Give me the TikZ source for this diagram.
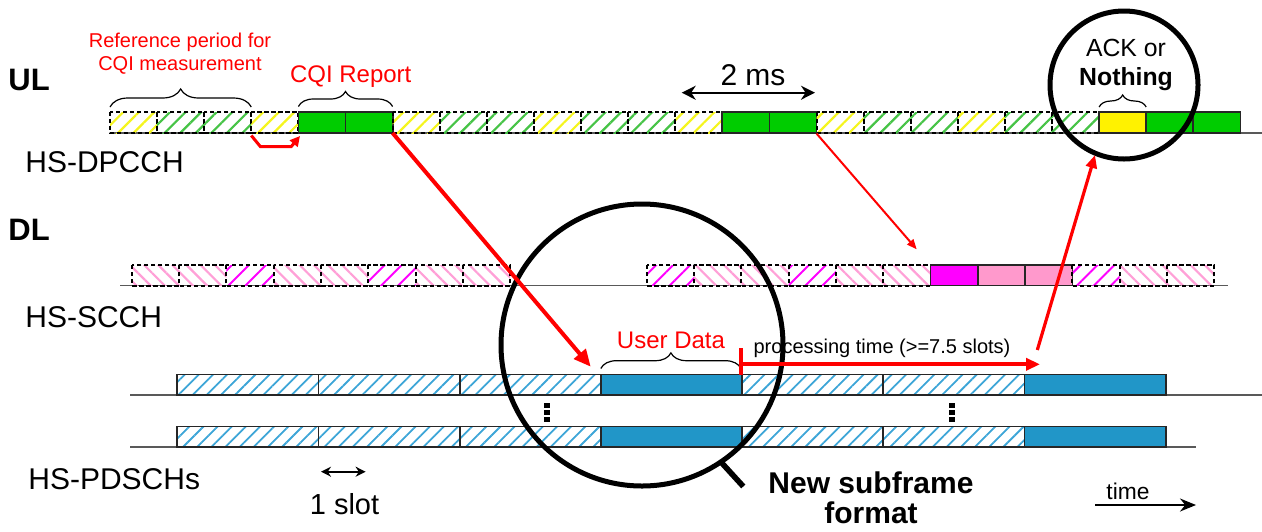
\documentclass[tikz,border=0pt]{standalone}
\usepackage{fontspec}
\setmainfont{Liberation Sans}
\usetikzlibrary{arrows.meta,calc,patterns.meta,decorations.pathreplacing}
\definecolor{ulgreencol}{RGB}{0,204,0}
\definecolor{hgreencol}{RGB}{70,195,70}
\definecolor{hyellowcol}{RGB}{245,245,30}
\definecolor{magcol}{RGB}{255,0,255}
\definecolor{pinkcol}{RGB}{255,153,204}
\definecolor{hpinkcol}{RGB}{255,160,215}
\definecolor{bluecol}{RGB}{33,150,200}
\definecolor{hbluecol}{RGB}{60,165,215}
% slot grid of each channel (picture units are pixels of the sketch)
\newcommand{\ULx}{110}
\newcommand{\ULw}{47.1}
\newcommand{\ULtop}{112}
\newcommand{\ULh}{21}
\newcommand{\DLx}{131.7}
\newcommand{\DLxx}{646.7}
\newcommand{\DLw}{47.3}
\newcommand{\DLtop}{265}
\newcommand{\DLh}{20.5}
\newcommand{\DSx}{177.3}
\newcommand{\DSw}{141.2}
\newcommand{\DSh}{20.5}

\begin{document}
\begin{tikzpicture}[
  x=0.5pt,y=-0.5pt,
  dashbd/.style={draw=black, line width=1pt, dash pattern=on 2.2pt off 1.3pt},
  solidbd/.style={draw=black!85, line width=0.9pt},
  ulyhatch/.style={pattern={Lines[angle=45,distance=5.5pt,line width=1.1pt]}, pattern color=hyellowcol},
  ulghatch/.style={pattern={Lines[angle=45,distance=5.5pt,line width=1.1pt]}, pattern color=hgreencol},
  ulgreen/.style={fill=ulgreencol},
  ulyellow/.style={fill=yellow},
  dlpink/.style={pattern={Lines[angle=-45,distance=5pt,line width=1.1pt]}, pattern color=hpinkcol},
  dlmag/.style={pattern={Lines[angle=45,distance=6pt,line width=1pt]}, pattern color=magcol},
  dlmagfill/.style={fill=magcol},
  dlpinkfill/.style={fill=pinkcol},
  dshatch/.style={pattern={Lines[angle=45,distance=5pt,line width=0.9pt]}, pattern color=hbluecol},
  dsblue/.style={fill=bluecol},
  timeline/.style={draw=black!65, line width=0.8pt},
  slotbrace/.style={draw=black, line width=0.6pt, decorate, decoration={brace, amplitude=#1}},
  lens/.style={draw=black, line width=2.5pt},
  redthick/.style={draw=red, line width=2pt, -{Triangle[length=8.5pt,width=7.5pt]}},
  redmid/.style={draw=red, line width=1.6pt, -{Triangle[length=6.5pt,width=5.5pt]}},
  redthin/.style={draw=red, line width=1pt, -{Triangle[length=5pt,width=4pt]}},
  dimarrow/.style={draw=black, line width=1pt, {Stealth[length=#1,width=#1]}-{Stealth[length=#1,width=#1]}},
  rowlabel/.style={inner sep=0pt, font=\fontsize{15}{18}\selectfont},
  sidelabel/.style={inner sep=0pt, font=\fontsize{15.5}{18}\bfseries},
  redlabel/.style={inner sep=0pt, text=red, font=\fontsize{12}{14}\selectfont}
]
\useasboundingbox (0,0) rectangle (1262,531);

% time lines
\draw[timeline] (110,133) -- (1262,133);
\draw[timeline] (120,285.5) -- (1228,285.5);
\draw[timeline] (130,395) -- (1262,395);
\draw[timeline] (130,447) -- (1196,447);

% HS-DPCCH slots
\foreach \k/\st/\bd in {0/ulyhatch/dashbd,1/ulghatch/dashbd,2/ulghatch/dashbd,3/ulyhatch/dashbd,
  4/ulgreen/solidbd,5/ulgreen/solidbd,6/ulyhatch/dashbd,7/ulghatch/dashbd,8/ulghatch/dashbd,
  9/ulyhatch/dashbd,10/ulghatch/dashbd,11/ulghatch/dashbd,12/ulyhatch/dashbd,
  13/ulgreen/solidbd,14/ulgreen/solidbd,15/ulyhatch/dashbd,16/ulghatch/dashbd,
  17/ulghatch/dashbd,18/ulyhatch/dashbd,19/ulghatch/dashbd,20/ulghatch/dashbd,
  21/ulyellow/solidbd,22/ulgreen/solidbd,23/ulgreen/solidbd} {
  \fill[\st] ({\ULx+\k*\ULw},\ULtop) rectangle ++(\ULw,\ULh);
  \draw[\bd] ({\ULx+\k*\ULw},\ULtop) rectangle ++(\ULw,\ULh);
}

% HS-SCCH slots
\foreach \k/\st in {0/dlpink,1/dlpink,2/dlmag,3/dlpink,4/dlpink,5/dlmag,6/dlpink,7/dlpink} {
  \fill[\st] ({\DLx+\k*\DLw},\DLtop) rectangle ++(\DLw,\DLh);
  \draw[dashbd] ({\DLx+\k*\DLw},\DLtop) rectangle ++(\DLw,\DLh);
}
\foreach \k/\st/\bd in {0/dlmag/dashbd,1/dlpink/dashbd,2/dlpink/dashbd,3/dlmag/dashbd,
  4/dlpink/dashbd,5/dlpink/dashbd,6/dlmagfill/solidbd,7/dlpinkfill/solidbd,
  8/dlpinkfill/solidbd,9/dlmag/dashbd,10/dlpink/dashbd,11/dlpink/dashbd} {
  \fill[\st] ({\DLxx+\k*\DLw},\DLtop) rectangle ++(\DLw,\DLh);
  \draw[\bd] ({\DLxx+\k*\DLw},\DLtop) rectangle ++(\DLw,\DLh);
}

% HS-PDSCH subframes
\foreach \row in {374.5,426.5}
  \foreach \k/\st in {0/dshatch,1/dshatch,2/dshatch,3/dsblue,4/dshatch,5/dshatch,6/dsblue} {
    \fill[\st] ({\DSx+\k*\DSw},\row) rectangle ++(\DSw,\DSh);
    \draw[solidbd] ({\DSx+\k*\DSw},\row) rectangle ++(\DSw,\DSh);
  }

% vertical dots between the two code channels
\foreach \dx in {544.3,948.5}
  \foreach \dy in {402.5,409.5,416.7}
    \fill[black] (\dx,\dy) rectangle ++(6,5);

% channel names
\node[sidelabel, anchor=base west] (ul) at (8,90) {UL};
\node[rowlabel, anchor=base west] (dpcch) at (25,172) {HS-DPCCH};
\node[sidelabel, anchor=base west] (dl) at (8,240) {DL};
\node[rowlabel, anchor=base west] (scch) at (25,327) {HS-SCCH};
\node[rowlabel, anchor=base west] (pdsch) at (28,489) {HS-PDSCHs};

% braces and their labels
\draw[slotbrace=9pt] (110,107) -- (251.3,107);
\node[redlabel, font=\fontsize{10}{11.75}\selectfont, align=center, anchor=base]
  (refper) at (180,70.5) {Reference period for\\CQI measurement};
\draw[slotbrace=7.5pt] (298.4,106.5) -- (392.6,106.5);
\node[redlabel, anchor=base] (cqirep) at (350.7,82.7) {CQI Report};
\draw[slotbrace=6pt] (1099.1,107) -- (1146.2,107);
\node[inner sep=0pt, font=\fontsize{12.4}{14.2}\selectfont, align=center, anchor=base]
  (ack) at (1126,85) {ACK or\\\textbf{Nothing}};
\draw[slotbrace=7.8pt] (600.8,368.5) -- (741,368.5);
\node[redlabel, anchor=base] (udata) at (671,348.3) {User Data};

% durations
\coordinate (twoL) at (681.7,92.7);
\coordinate (twoR) at (815,92.7);
\draw[dimarrow=7pt] (twoL) -- (twoR);
\node[inner sep=0pt, font=\fontsize{15}{18}\selectfont, anchor=base] (twoms) at (753,85) {2 ms};
\coordinate (slotL) at (321,471.7);
\coordinate (slotR) at (365.6,471.7);
\draw[dimarrow=5pt] (slotL) -- (slotR);
\node[rowlabel, font=\fontsize{14.5}{17}\selectfont, anchor=base] (oneslot) at (344.5,514) {1 slot};
\coordinate (timeL) at (1095,505);
\coordinate (timeR) at (1196,505);
\draw[draw=black, line width=1pt, -{Stealth[length=8pt,width=6.5pt]}] (timeL) -- (timeR);
\node[inner sep=0pt, font=\fontsize{11.4}{13}\selectfont, anchor=base] (time) at (1128,499.3) {time};

% magnifying lenses
\coordinate (magc) at (642,345);
\draw[lens] (magc) circle[radius=70.5pt];
\draw[lens, line width=2.8pt] ($(magc)+(56:141)$) -- ($(magc)+(54.4:174)$);
\node[inner sep=0pt, font=\fontsize{15}{14.85}\bfseries, align=center, anchor=base]
  (newsf) at (871,523) {New subframe\\format};
\coordinate (ackc) at (1124,85);
\draw[lens] (ackc) circle[radius=37pt];

% processing time
\coordinate (procstart) at (741,364.3);
\coordinate (procend) at (1040,364.3);
\coordinate (proctick) at (741,348);
\draw[red, line width=1.6pt] (proctick) -- (741,374.5);
\draw[redmid, line width=2pt, -{Triangle[length=7pt,width=6pt]}] (procstart) -- (procend);
\node[inner sep=0pt, font=\fontsize{10}{12}\selectfont, anchor=base] (proc) at (882,353.3)
  {processing time (>=7.5 slots)};

% red connectors between channels
\coordinate (refend) at (251.3,135.5);
\coordinate (cqistart) at (300,136);
\coordinate (cqiend) at (392.6,133);
\coordinate (udtip) at (590.7,366.7);
\coordinate (ulend) at (816.5,133.5);
\coordinate (scchtip) at (916.7,249.3);
\coordinate (ackfrom) at (1037.3,350);
\coordinate (acktip) at (1095,155);
\draw[redmid, line width=1.5pt, -{Triangle[length=5pt,width=5pt]}]
  (refend) -- ++(9,11) -- ++(31,0) -- (cqistart);
\draw[redthick] (cqiend) -- (udtip);
\draw[redthin] (ulend) -- (scchtip);
\draw[redmid] (ackfrom) -- (acktip);

\end{tikzpicture}
\end{document}
